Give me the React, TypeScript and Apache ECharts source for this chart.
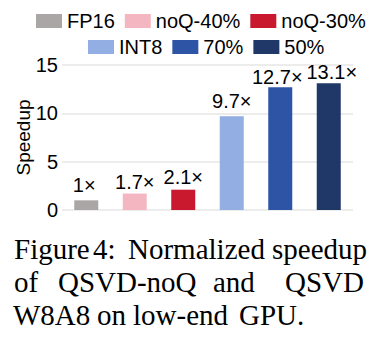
import React, { useEffect, useRef } from "react";
import * as echarts from "echarts";

const categories = ["FP16", "noQ-40%", "noQ-30%", "INT8", "70%", "50%"];
const speedups = [1, 1.7, 2.1, 9.7, 12.7, 13.1];
const labels = ["1×", "1.7×", "2.1×", "9.7×", "12.7×", "13.1×"];
const colors = ["#aba6a6", "#f4b7c1", "#c8192f", "#93aee2", "#2e55a5", "#1f3868"];
const legendRow1 = ["FP16", "noQ-40%", "noQ-30%"];
const legendRow2 = ["INT8", "70%", "50%"];
const yTicks = { min: 0, max: 15, interval: 5 };
const captionLines = [
  { words: ["Figure", "4:", "Normalized", "speedup"], xs: [14, 93, 128, 272] },
  { words: ["of", "QSVD-noQ", "and", "QSVD"], xs: [14, 58, 213, 285] },
  { words: ["W8A8", "on", "low-end", "GPU."], xs: [13, 97, 133, 239] },
];
const labelDistances = [5, 2, 3, 5, 0, 1];
const labelOffsets = [[-2, 0], [0, 0], [0, 0], [0, 0], [-3, 0], [3, 0]];

export default function App() {
  const ref = useRef<HTMLDivElement>(null);
  useEffect(() => {
    if (!ref.current) return;
    const chart = echarts.init(ref.current, null, { renderer: "svg" });
    const font = "'Liberation Sans', Arial, sans-serif";
    const series = categories.map((name, i) => ({
      name,
      type: "bar",
      stack: "all",
      barWidth: 24,
      itemStyle: { color: colors[i] },
      label: {
        show: true,
        position: "top",
        distance: labelDistances[i],
        offset: labelOffsets[i],
        formatter: () => labels[i],
        color: "#000",
        fontSize: 20,
        fontFamily: font,
      },
      data: categories.map((_, j) => (j === i ? speedups[i] : "-")),
    }));
    const centers = [241, 274, 307];
    const graphics: any[] = [];
    captionLines.forEach((line, li) => {
      line.words.forEach((w, wi) => {
        graphics.push({
          type: "text",
          x: line.xs[wi] - 8,
          y: centers[li],
          style: {
            text: w,
            fill: "#000",
            font: "29px 'Liberation Serif', 'Times New Roman', serif",
            verticalAlign: "middle",
            align: "left",
          },
        });
      });
    });
    const legendCommon = {
      itemWidth: 26,
      itemHeight: 14,
      itemGap: 10,
      padding: 0,
      icon: "rect",
      orient: "horizontal",
      textStyle: { fontSize: 20, color: "#000", fontFamily: font },
    };
    chart.setOption({
      animation: false,
      grid: { left: 54, right: 27, top: 57, bottom: 134, outerBoundsMode: "none", containLabel: false },
      legend: [
        { ...legendCommon, data: legendRow1, left: 28, top: 3 },
        { ...legendCommon, data: legendRow2, left: 80, top: 29 },
      ],
      xAxis: {
        type: "category",
        data: categories,
        axisLine: { show: false },
        axisTick: { show: false },
        axisLabel: { show: false },
      },
      yAxis: {
        type: "value",
        min: yTicks.min,
        max: yTicks.max,
        interval: yTicks.interval,
        name: "Speedup",
        nameLocation: "middle",
        nameGap: 29,
        nameMoveOverlap: false,
        nameTextStyle: { fontSize: 19, color: "#000", fontFamily: font },
        axisLine: { show: false },
        axisTick: { show: false },
        axisLabel: { fontSize: 20, color: "#000", fontFamily: font, margin: 4 },
        splitLine: { lineStyle: { color: "#e6e6e6", width: 1.5 } },
      },
      graphic: graphics,
      series,
    });
    return () => chart.dispose();
  }, []);
  return <div ref={ref} style={{ width: 372, height: 336 }} />;
}
